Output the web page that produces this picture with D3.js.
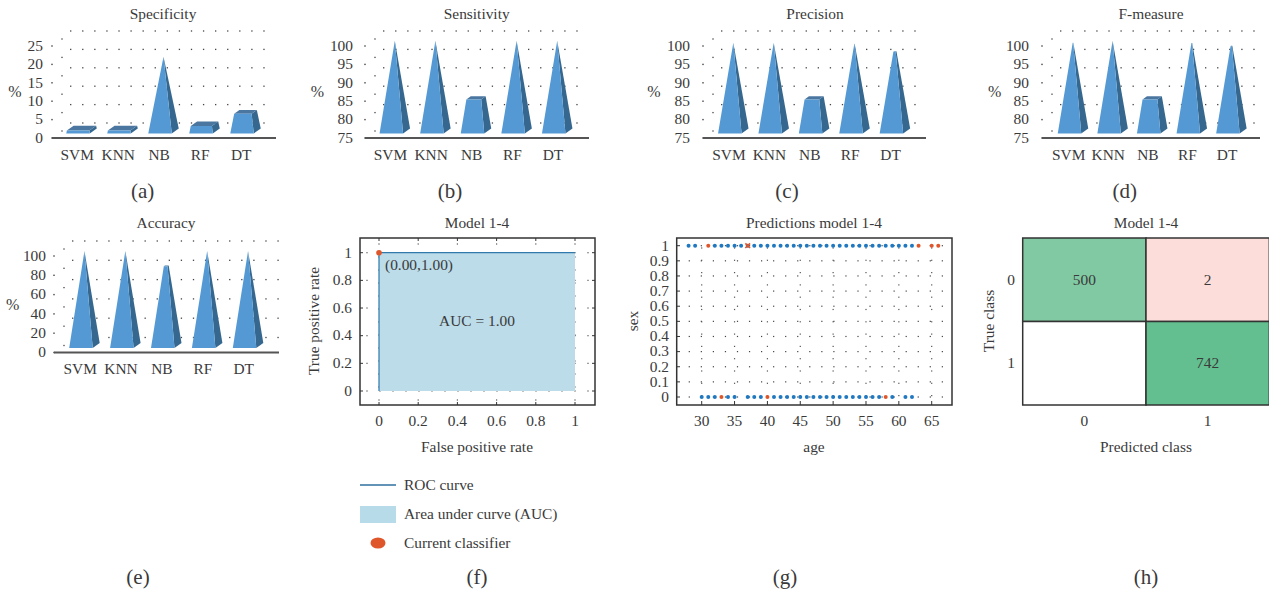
<!DOCTYPE html>
<html><head><meta charset="utf-8">
<script src="https://cdn.jsdelivr.net/npm/d3@7"></script>
<style>
html,body{margin:0;padding:0;background:#fff;overflow:hidden}
svg{display:block}
text{font-family:"Liberation Serif",serif;fill:#3a3a3a}
</style></head><body>
<svg id="c" width="1269" height="592"></svg>
<script>
const classifiers = ["SVM","KNN","NB","RF","DT"];
const specificity = [0.8,0.8,20.2,2,5.2];
const sensitivity = [99.5,99.5,84,99.5,99.5];
const precision   = [99,99,84,98.7,96.6];
const fmeasure    = [99,99.5,84,98.9,98.1];
const accuracy    = [98,98,82.5,98,98];
const ticksSpec = [0,5,10,15,20,25];
const ticksPct  = [75,80,85,90,95,100];
const ticksAcc  = [0,20,40,60,80,100];
const rocX = [0,0,1];
const rocY = [0,1,1];
const unitTicks = [0,0.2,0.4,0.6,0.8,1];
const sexTicks = [0,0.1,0.2,0.3,0.4,0.5,0.6,0.7,0.8,0.9,1];
const ageTicks = [30,35,40,45,50,55,60,65];
const sex1Blue = [28,29,32,33,34,35,36,38,39,40,41,42,43,44,45,46,47,48,49,50,51,52,53,54,55,56,57,58,59,60,61,62];
const sex1Orange = [31,63,65,66];
const sex1Cross = [37];
const sex0Blue = [30,31,32,34,35,37,38,39,41,42,43,44,45,46,47,48,49,50,51,52,53,54,55,56,57,59,61,62];
const sex0Orange = [33,40,58];
const confusion = [["0","0",500,"#80c9a3"],["0","1",2,"#fdddda"],["1","0",null,"#ffffff"],["1","1",742,"#63bf90"]];
const classes = ["0","1"];

const svg = d3.select("#c");
const FS = 15.4, CAP = 21;
function label(x,y,t,opts={}){
  const yy = opts.rotate ? y : y-0.7;
  const s = svg.append("text").attr("x",x).attr("y",yy).attr("text-anchor",opts.anchor||"middle")
    .attr("dominant-baseline","central").attr("font-size",opts.size||FS).text(t);
  if(opts.rotate) s.attr("transform",`rotate(-90 ${x} ${y})`);
  return s;
}
function dot(g,x,y,s=1.3,c="#444"){ g.append("rect").attr("x",x-s/2).attr("y",y-s/2).attr("width",s).attr("height",s).attr("fill",c); }

function pyramidChart(cfg){
  const {title,values,ticks,left,right,barStart,span,yTop,yBot,titleX,titleY,pctX,pctY,labelY,tickEnd,capX,capY,cap} = cfg;
  const g = svg.append("g");
  const y = d3.scaleLinear().domain([ticks[0],ticks[ticks.length-1]]).range([yBot,yTop]);
  const x = d3.scaleBand().domain(classifiers).range([barStart,barStart+span]);
  const W = 23.5, DX = 7, DY = 5, base = -4.5;
  ticks.forEach(t=>{
    d3.range(left+18.7,right,12.08).forEach(px=>dot(g,px,y(t)-15));
    dot(g,left+10,y(t)-7);
    dot(g,left,y(t),1.4);
  });
  const vmax = d3.max(values), vmin = ticks[0];
  values.forEach((v,i)=>{
    const cx = x(classifiers[i])+x.bandwidth()/2, fr = (v-vmin)/(vmax-vmin);
    const b = yBot+base;
    const P = (u,d,ff)=>{
      const hh = ff*(y(vmin)-y(vmax));
      return [cx+u*W/2*(1-ff)+(d*(1-ff)+1)/2*DX, b-hh-(d*(1-ff)+1)/2*DY];
    };
    const poly = (pts,c)=>g.append("polygon").attr("points",pts.map(p=>p.join(",")).join(" ")).attr("fill",c);
    poly([P(1,-1,0),P(1,1,0),P(1,1,fr),P(1,-1,fr)],"#35678f");
    poly([P(-1,-1,fr),P(1,-1,fr),P(1,1,fr),P(-1,1,fr)],"#4a76a0");
    poly([P(-1,-1,0),P(1,-1,0),P(1,-1,fr),P(-1,-1,fr)],"#5499d4");
  });
  g.append("line").attr("x1",left).attr("x2",right).attr("y1",yBot).attr("y2",yBot).attr("stroke","#555").attr("stroke-width",1.8);
  ticks.forEach(t=>label(tickEnd,y(t),t,{anchor:"end"}));
  classifiers.forEach(c=>label(x(c)+x.bandwidth()/2-0.8,labelY,c));
  label(titleX,titleY,title);
  label(pctX,pctY,"%",{size:16});
  label(capX,capY,cap,{size:CAP});
}
pyramidChart({title:"Specificity",values:specificity,ticks:ticksSpec,left:52,right:276,barStart:57.5,span:205,yTop:46,yBot:138,titleX:163,titleY:14,pctX:15,pctY:92,labelY:155,tickEnd:43,capX:142.7,capY:192,cap:"(a)"});
pyramidChart({title:"Sensitivity",values:sensitivity,ticks:ticksPct,left:365,right:589,barStart:371,span:203,yTop:46,yBot:138,titleX:476.7,titleY:14,pctX:317.5,pctY:92,labelY:155,tickEnd:353,capX:450,capY:192,cap:"(b)"});
pyramidChart({title:"Precision",values:precision,ticks:ticksPct,left:703,right:926,barStart:709.6,span:202,yTop:46,yBot:138,titleX:815,titleY:14,pctX:654,pctY:92,labelY:155,tickEnd:690,capX:787,capY:192,cap:"(c)"});
pyramidChart({title:"F-measure",values:fmeasure,ticks:ticksPct,left:1042,right:1260,barStart:1049.7,span:198,yTop:46,yBot:138,titleX:1151,titleY:14,pctX:994.7,pctY:92,labelY:155,tickEnd:1029,capX:1124.7,capY:192,cap:"(d)"});
pyramidChart({title:"Accuracy",values:accuracy,ticks:ticksAcc,left:54,right:279,barStart:60.5,span:204.5,yTop:256,yBot:352.5,titleX:166,titleY:223,pctX:12.7,pctY:305,labelY:369,tickEnd:46,capX:138,capY:578,cap:"(e)"});

function frame(g,x0,x1,y0,y1){
  g.append("rect").attr("x",x0).attr("y",y0).attr("width",x1-x0).attr("height",y1-y0).attr("fill","none").attr("stroke","#333").attr("stroke-width",1.5);
}
// ROC
{
  const g = svg.append("g");
  const x = d3.scaleLinear().domain([0,1]).range([379,575]);
  const y = d3.scaleLinear().domain([0,1]).range([391,252.7]);
  unitTicks.forEach(t=>{
    d3.range(367,592,13).forEach(px=>dot(g,px,y(t),1.2,"#555"));
    d3.range(244,402,13).forEach(py=>dot(g,x(t),py,1.2,"#555"));
  });
  const roc = rocX.map((d,i)=>[d,rocY[i]]);
  g.append("path").datum(roc).attr("d",d3.area().x(d=>x(d[0])).y1(d=>y(d[1])).y0(y(0))).attr("fill","#bcdce9");
  g.append("path").datum(roc).attr("d",d3.line().x(d=>x(d[0])).y(d=>y(d[1]))).attr("fill","none").attr("stroke","#2f79ad").attr("stroke-width",1.2);
  g.append("circle").attr("cx",x(0)).attr("cy",y(1)).attr("r",2.8).attr("fill","#e0562b");
  frame(g,360,595,238,405);
  unitTicks.forEach(t=>{
    label(x(t),421,t);
    label(352,y(t),t,{anchor:"end"});
    g.append("line").attr("x1",x(t)).attr("x2",x(t)).attr("y1",405).attr("y2",402).attr("stroke","#333");
    g.append("line").attr("x1",x(t)).attr("x2",x(t)).attr("y1",238).attr("y2",241).attr("stroke","#333");
    g.append("line").attr("x1",360).attr("x2",363).attr("y1",y(t)).attr("y2",y(t)).attr("stroke","#333");
    g.append("line").attr("x1",595).attr("x2",592).attr("y1",y(t)).attr("y2",y(t)).attr("stroke","#333");
  });
  label(385,265.5,"(0.00,1.00)",{anchor:"start"});
  label(477,321,"AUC = 1.00");
  label(477,223,"Model 1-4");
  label(477,447,"False positive rate");
  label(313,321,"True positive rate",{rotate:true});
  label(477,578,"(f)",{size:CAP});
  g.append("line").attr("x1",360).attr("x2",396).attr("y1",485).attr("y2",485).attr("stroke","#2f6f9f").attr("stroke-width",1.3);
  g.append("rect").attr("x",360).attr("y",506).attr("width",36).attr("height",17).attr("fill","#b8dbe9");
  g.append("ellipse").attr("cx",378).attr("cy",543).attr("rx",7.5).attr("ry",5.5).attr("fill","#e0562b");
  label(404,485,"ROC curve",{anchor:"start"});
  label(404,514,"Area under curve (AUC)",{anchor:"start"});
  label(404,543,"Current classifier",{anchor:"start"});
}
// Scatter
{
  const g = svg.append("g");
  const x = d3.scaleLinear().domain([30,65]).range([701.7,931.7]);
  const y = d3.scaleLinear().domain([0,1]).range([397,245.7]);
  sexTicks.forEach(t=>{ d3.range(689.3,948,12.05).forEach(px=>dot(g,px,y(t),1.2,"#444")); });
  ageTicks.forEach(t=>{ d3.range(248,396,12.3).forEach(py=>dot(g,x(t),py,1.2,"#555")); });
  const pts = (arr,s,c,r)=>arr.forEach(a=>g.append("circle").attr("cx",x(a)).attr("cy",y(s)).attr("r",r).attr("fill",c));
  pts(sex1Blue,1,"#1f78c0",2); pts(sex0Blue,0,"#1f78c0",2);
  pts(sex1Orange,1,"#e0562b",2); pts(sex0Orange,0,"#e0562b",2);
  sex1Cross.forEach(a=>{
    g.append("circle").attr("cx",x(a)).attr("cy",y(1)).attr("r",2).attr("fill","#1f78c0");
    g.append("path").attr("d",d3.symbol().type(d3.symbolX).size(16)()).attr("transform",`translate(${x(a)},${y(1)})`).attr("stroke","#e0562b").attr("stroke-width",1.6).attr("fill","none");
  });
  frame(g,676.7,952,238,405);
  ageTicks.forEach(t=>{
    label(x(t),421,t);
    g.append("line").attr("x1",x(t)).attr("x2",x(t)).attr("y1",405).attr("y2",401).attr("stroke","#333");
  });
  sexTicks.forEach(t=>{
    label(669,y(t),t,{anchor:"end"});
    g.append("line").attr("x1",676.7).attr("x2",680).attr("y1",y(t)).attr("y2",y(t)).attr("stroke","#333");
  });
  label(814,223,"Predictions model 1-4");
  label(814,447,"age");
  label(632,321,"sex",{rotate:true});
  label(785,578,"(g)",{size:CAP});
}
// Confusion
{
  const g = svg.append("g");
  const x = d3.scaleBand().domain(classes).range([1022.7,1269.3]);
  const y = d3.scaleBand().domain(classes).range([238,405]);
  confusion.forEach(([r,c,v,col])=>{
    g.append("rect").attr("x",x(c)).attr("y",y(r)).attr("width",x.bandwidth()).attr("height",y.bandwidth())
      .attr("fill",col).attr("stroke","#333").attr("stroke-width",1.5);
    if(v!==null) label(x(c)+x.bandwidth()/2,y(r)+y.bandwidth()/2,v);
  });
  classes.forEach(c=>{
    label(x(c)+x.bandwidth()/2,421,c);
    label(1011,y(c)+y.bandwidth()/2,c);
  });
  label(1146,223,"Model 1-4");
  label(1146,447,"Predicted class");
  label(988,321,"True class",{rotate:true});
  label(1146,578,"(h)",{size:CAP});
}
</script>
</body></html>
